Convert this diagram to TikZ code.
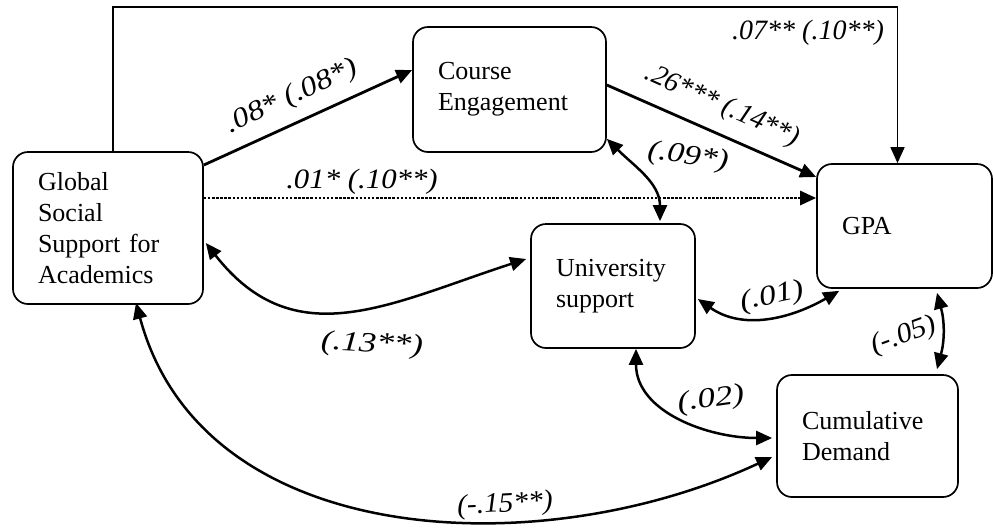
\documentclass[tikz,border=0pt]{standalone}
\usepackage{fontspec}
\setmainfont{Liberation Serif}
\usetikzlibrary{arrows.meta,calc}
\begin{document}
\begin{tikzpicture}[x=1pt,y=1pt,
  box/.style={draw, line width=1.7pt, rounded corners=15pt, align=left,
    inner xsep=25pt, inner ysep=0pt, font=\fontsize{26}{31}\selectfont},
  lbl/.style={font=\fontsize{28}{30}\selectfont\itshape, inner sep=0pt},
  tip/.style={-{Triangle[length=16pt,width=14pt]}},
  link/.style={line width=2.8pt, tip},
  both/.style={line width=2.5pt, {Triangle[length=16pt,width=14pt]}-{Triangle[length=16pt,width=14pt]}},
]
\path[use as bounding box] (0,0) rectangle (993,-531);

% variables
\node[box, text width=140pt, minimum height=152pt] (G) at (108,-228) {Global\\Social\\Support for\\Academics};
\node[box, text width=143pt, minimum height=125pt] (C) at (509.5,-89.5) {Course\\Engagement};
\node[box, text width=125pt, minimum height=124pt] (P) at (904.5,-226) {GPA};
\node[box, text width=114pt, minimum height=124pt] (U) at (613,-286) {University\\support};
\node[box, text width=131pt, minimum height=122pt] (D) at (867.5,-436) {Cumulative\\Demand};

% direct paths
\draw[line width=1.6pt, tip] ($(G.north)+(5,0)$) -- ++(0,144) -| ($(P.north)+(-7,0)$);
\draw[link, dash pattern=on 2.5pt off 1.6pt] ($(G.east)+(0,30)$) -- ($(P.west)+(0,28)$);
\draw[link] ($(G.east)+(0,63)$) -- ($(C.west)+(0,19.5)$);
\draw[link] ($(C.east)+(0,4.5)$) -- ($(P.west)+(0,49)$);

% covariances
\draw[both] ($(C.south east)+(0,14)$) to[out=-45,in=90] ($(U.north)+(47,2)$);
\draw[both] ($(G.east)+(2,-15)$) to[out=-52,in=198,looseness=1.15] ($(U.west)+(-4,27)$);
\draw[both] ($(G.south)+(28,2)$) to[out=-75,in=205] ($(D.west)+(-4,-21)$);
\draw[both] ($(U.east)+(2,-13)$) to[out=-35,in=210] ($(P.south west)+(23,-2)$);
\draw[both] ($(U.south)+(23,0)$) to[out=-90,in=180] ($(D.west)+(-4,-2)$);
\draw[both] ($(P.south)+(32.5,-4)$) to[out=-75,in=75] ($(D.north)+(69.5,5)$);

% coefficients
\node[lbl, rotate=25, xscale=1.15] (l1) at (292,-97) {.08* (.08*)};
\node[lbl] (l2) at (808,-33) {.07** (.10**)};
\node[lbl, rotate=-24] (l3) at (722,-106) {.26*** (.14**)};
\node[lbl, rotate=-8, xscale=1.2] (l4) at (688,-157) {(.09*)};
\node[lbl, xscale=1.1] (l5) at (362,-182) {.01* (.10**)};
\node[lbl, rotate=-3, xscale=1.25] (l6) at (372,-345) {(.13**)};
\node[lbl, rotate=3, xscale=1.05] (l7) at (505,-505) {(-.15**)};
\node[lbl, rotate=12, xscale=1.2] (l8) at (772,-297) {(.01)};
\node[lbl, rotate=8, xscale=1.25] (l9) at (711,-400) {(.02)};
\node[lbl, rotate=20, xscale=1.08] (l10) at (904,-336) {(-.05)};
\end{tikzpicture}
\end{document}
